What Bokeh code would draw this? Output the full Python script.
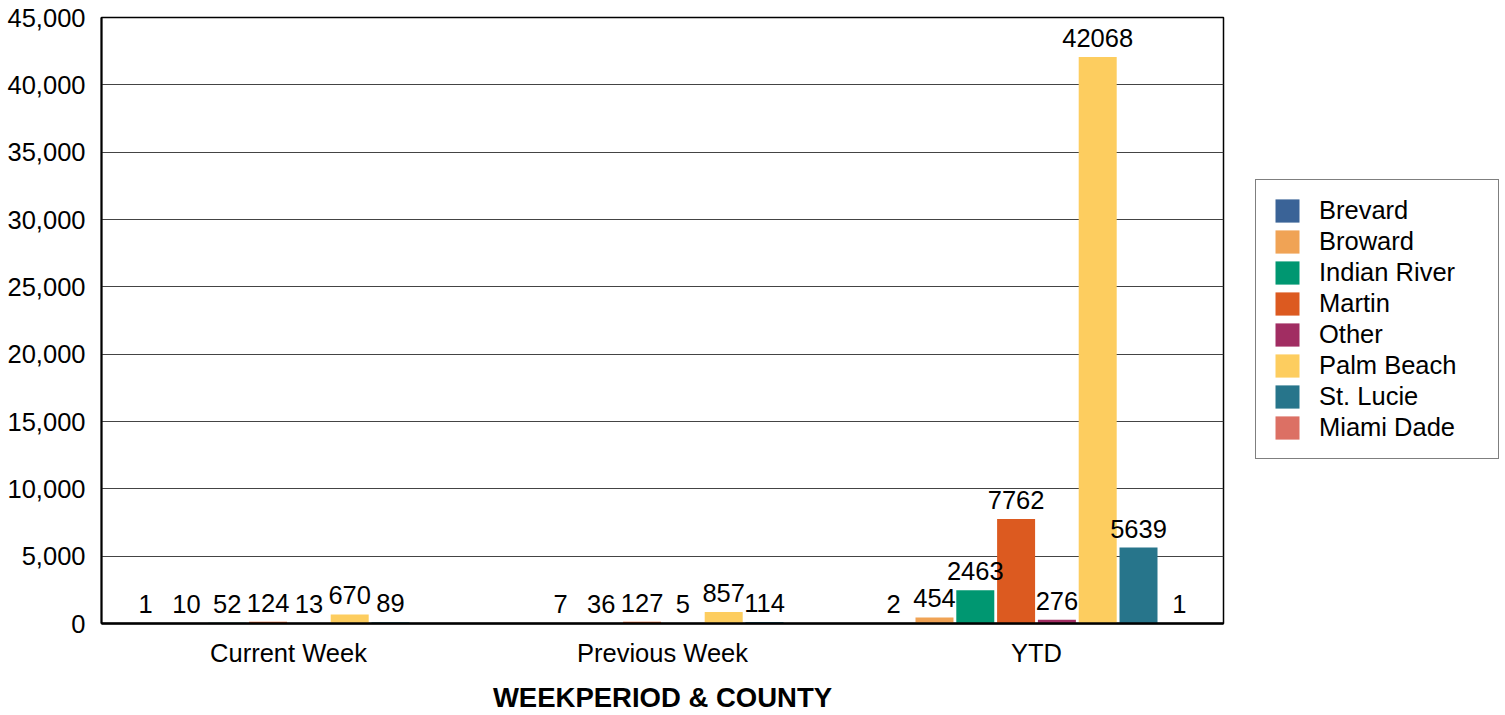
from bokeh.plotting import figure
from bokeh.layouts import row
from bokeh.models import (ColumnDataSource, FactorRange, Range1d, Legend, LegendItem,
                          NumeralTickFormatter, FixedTicker, LabelSet)
from bokeh.transform import dodge
from bokeh.core.properties import value
from bokeh.embed import file_html
from bokeh.resources import INLINE

periods = ["Current Week", "Previous Week", "YTD"]
counties = ["Brevard", "Broward", "Indian River", "Martin", "Other",
            "Palm Beach", "St. Lucie", "Miami Dade"]
brevard = [1, None, 2]
broward = [10, 7, 454]
indian_river = [52, 36, 2463]
martin = [124, 127, 7762]
other = [13, 5, 276]
palm_beach = [670, 857, 42068]
st_lucie = [89, 114, 5639]
miami_dade = [None, None, 1]
series = [brevard, broward, indian_river, martin, other, palm_beach, st_lucie, miami_dade]
colors = ["#3A6397", "#F0A355", "#009771", "#DC5A20", "#A12D62",
          "#FDCD5F", "#27758B", "#DC7064"]
y_ticks = list(range(0, 45001, 5000))

FONT = "Liberation Sans"
FS = "25.5px"

p = figure(x_range=FactorRange(factors=periods, range_padding=0),
           y_range=Range1d(0, 45000),
           width=1230, height=715, output_backend="svg", toolbar_location=None,
           min_border_left=101, min_border_right=7, min_border_top=17, min_border_bottom=92)

p.background_fill_color = "white"
p.border_fill_color = "white"
p.outline_line_color = "black"
p.outline_line_width = 1.5

# legend panel (separate figure so the legend can sit outside the main frame)
lg = figure(width=275, height=715, x_range=FactorRange(factors=periods),
            y_range=Range1d(0, 1), output_backend="svg", toolbar_location=None,
            x_axis_location=None, y_axis_location=None, min_border=0)
lg.outline_line_color = None
lg.grid.grid_line_color = None
lg.background_fill_color = "white"
lg.border_fill_color = "white"

step = 0.1091
bw = 0.1016
items = []
for i, (name, vals, col) in enumerate(zip(counties, series, colors)):
    xs = [c for c, v in zip(periods, vals) if v is not None]
    ys = [v for v in vals if v is not None]
    src = ColumnDataSource(dict(x=xs, y=ys, t=[str(v) for v in ys]))
    off = (i - (len(counties) - 1) / 2) * step
    p.vbar(x=dodge("x", off, range=p.x_range), top="y", width=bw, source=src,
           fill_color=col, line_color=None)
    labels = LabelSet(x=dodge("x", off, range=p.x_range), y="y", text="t", source=src,
                      text_font=value(FONT), text_font_size=value(FS), text_color="black",
                      text_align="center", text_baseline="alphabetic", y_offset=10)
    p.add_layout(labels)
    # legend proxy: zero-width bars (invisible) carrying the series colour
    r = lg.vbar(x="x", top="y", width=0, source=src, fill_color=col, line_color=None)
    items.append(LegendItem(label=name, renderers=[r]))

legend = Legend(items=items, location=(25, 164), orientation="vertical",
                label_text_font=FONT, label_text_font_size=FS, label_text_color="black",
                glyph_width=30, glyph_height=29, label_height=23, label_standoff=17,
                spacing=2, padding=16, label_width=163,
                border_line_color="black", border_line_width=1.2,
                background_fill_color="white", background_fill_alpha=1)
lg.add_layout(legend, "center")

# y axis
p.yaxis.ticker = FixedTicker(ticks=y_ticks)
p.yaxis.formatter = NumeralTickFormatter(format="0,0")
p.yaxis.major_label_text_font = FONT
p.yaxis.major_label_text_font_size = FS
p.yaxis.major_label_text_color = "black"
p.yaxis.major_tick_line_color = None
p.yaxis.minor_tick_line_color = None
p.yaxis.axis_line_color = "black"
p.yaxis.axis_line_width = 2
p.yaxis.major_label_standoff = 10

# x axis
p.xaxis.axis_label = "WEEKPERIOD & COUNTY"
p.xaxis.axis_label_text_font = FONT
p.xaxis.axis_label_text_font_size = "27.5px"
p.xaxis.axis_label_text_font_style = "bold"
p.xaxis.axis_label_text_color = "black"
p.xaxis.axis_label_standoff = 12
p.xaxis.major_label_text_font = FONT
p.xaxis.major_label_text_font_size = FS
p.xaxis.major_label_text_color = "black"
p.xaxis.major_label_standoff = 9
p.xaxis.major_tick_line_color = None
p.xaxis.minor_tick_line_color = None
p.xaxis.axis_line_color = "black"
p.xaxis.axis_line_width = 2.5

p.xgrid.grid_line_color = None
p.ygrid.grid_line_color = "#444444"
p.ygrid.grid_line_width = 1.2

layout = row(p, lg, spacing=0)
open("out.html", "w").write(file_html(layout, INLINE))
